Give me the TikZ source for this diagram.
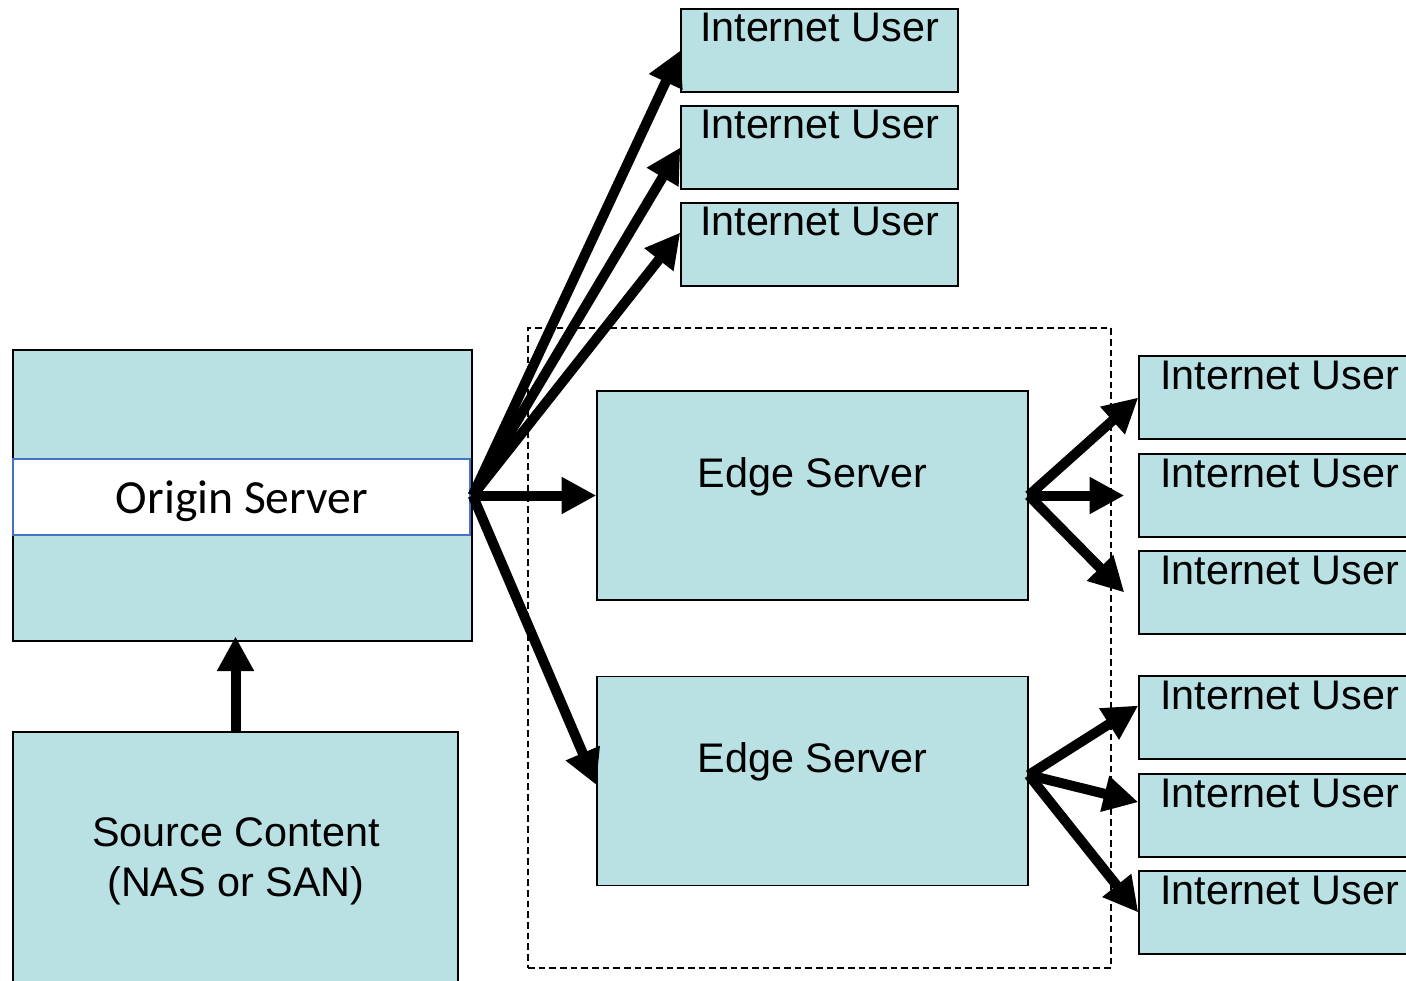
\documentclass[tikz,border=0pt]{standalone}
\usepackage{fontspec}
\setmainfont{Liberation Sans}
\newfontfamily\calibrifont{Carlito}
\usetikzlibrary{arrows.meta}
\definecolor{boxfill}{RGB}{185,224,227}
\definecolor{bandblue}{RGB}{68,114,196}
\begin{document}
\begin{tikzpicture}[x=0.75pt,y=-0.75pt,
  box/.style={draw=black, line width=1pt, fill=boxfill, inner sep=0pt},
  userbox/.style={box, minimum width=207.75pt, minimum height=62.25pt},
  ruserbox/.style={box, minimum width=210.75pt, minimum height=62.25pt},
  serverbox/.style={box, minimum width=323.25pt, minimum height=156.75pt},
  lbl/.style={font=\fontsize{31pt}{37.5pt}\selectfont, inner sep=0pt, anchor=base, align=center},
  flow/.style={line width=7.5pt, -{Triangle[length=26pt,width=26pt]}},
  group/.style={draw=black, line width=0.9pt, dash pattern=on 5pt off 3pt, inner sep=0pt}
]
\useasboundingbox (0,0) rectangle (1406,981);
\clip (0,0) rectangle (1406,981);

% dashed CDN group
\node[group, minimum width=437.25pt, minimum height=480pt] (cdn) at (819.5,648) {};

% top internet users
\node[userbox] (u1) at (819.5,50.5) {};
\node[userbox] (u2) at (819.5,147.5) {};
\node[userbox] (u3) at (819.5,244.5) {};
\node[lbl] (u1t) at ([yshift=-24.75pt]u1.north) {Internet User};
\node[lbl] (u2t) at ([yshift=-24.75pt]u2.north) {Internet User};
\node[lbl] (u3t) at ([yshift=-24.75pt]u3.north) {Internet User};

% origin server
\node[box, minimum width=344.25pt, minimum height=218.25pt] (origin) at (242.5,495.5) {};
\node[draw=bandblue, line width=1pt, fill=white, inner sep=0pt, minimum width=342.75pt, minimum height=57pt] (band) at (241.5,497) {};
\node[font=\calibrifont\fontsize{35.7pt}{42pt}\selectfont, inner sep=0pt, anchor=base] (bandt) at (242,513) {Origin Server};

% source content
\node[box, minimum width=333.75pt, minimum height=201pt] (source) at (235.5,866) {};
\node[lbl, anchor=center] (sourcet) at (236,861) {Source Content\\(NAS or SAN)};

% edge servers
\node[serverbox] (e1) at (812.5,495.5) {};
\node[serverbox] (e2) at (812.5,781) {};
\node[lbl] (e1t) at ([yshift=-72.75pt]e1.north) {Edge Server};
\node[lbl] (e2t) at ([yshift=-72.75pt]e2.north) {Edge Server};

% right internet users
\foreach \n/\y in {r1/397.5, r2/495.5, r3/592.5, r4/717.5, r5/815.5, r6/912.5}{
  \node[ruserbox] (\n) at (1279.5,\y) {};
  \node[lbl] (\n t) at ([yshift=-25.5pt]\n.north) {Internet User};
}

% connectors
\draw[flow] (source.north) -- ([yshift=4pt]source.north |- origin.south);
\draw[flow] (origin.east) -- (u1.west);
\draw[flow] (origin.east) -- (u2.west);
\draw[flow] (origin.east) -- ([yshift=9pt]u3.west);
\draw[flow] (origin.east) -- (e1.west);
\draw[flow] (origin.east) -- ([yshift=-3pt]e2.west);

\draw[flow] (e1.east) -- (r1.west);
\draw[flow] (e1.east) -- ([xshift=-10.5pt]r2.west);
\draw[flow] (e1.east) -- ([xshift=-10.5pt]r3.west);
\draw[flow] ([yshift=4.5pt]e2.east) -- ([yshift=9pt]r4.west);
\draw[flow] ([yshift=4.5pt]e2.east) -- ([yshift=10pt]r5.west);
\draw[flow] ([yshift=4.5pt]e2.east) -- (r6.west);
\end{tikzpicture}
\end{document}
